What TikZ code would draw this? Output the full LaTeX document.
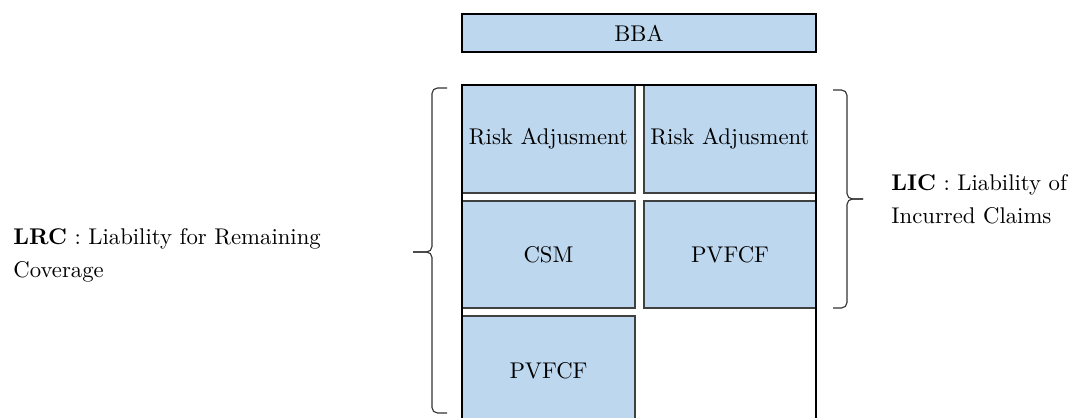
\documentclass[tikz,border=0pt]{standalone}
\definecolor{cellblue}{RGB}{189,215,238}
\begin{document}
\begin{tikzpicture}[x=0.44pt,y=-0.44pt,
  cell/.style={draw=black!75,line width=0.6pt,fill=cellblue},
  celltext/.style={font=\fontsize{10}{12}\selectfont,inner sep=0pt},
  sidetext/.style={font=\fontsize{10}{14.5}\selectfont,align=left,anchor=west,inner sep=0pt},
  bracestyle/.style={draw=black!80,line width=0.5pt,rounded corners=2.4pt}]
\useasboundingbox (0,0) rectangle (1069,418);

% top banner
\draw[cell,draw=black] (462,14) rectangle (816,52);
\node[celltext] (bba) at (639,33) {BBA};

% cells of the table
\draw[cell] (462,85) rectangle (635,193);
\draw[cell] (644,85) rectangle (816,193);
\draw[cell] (462,201) rectangle (635,308);
\draw[cell] (644,201) rectangle (816,308);
\draw[cell] (462,316) rectangle (635,430);
\node[celltext] (ra1) at (548.5,139) {Risk Adjusment};
\node[celltext] (ra2) at (730,139) {Risk Adjusment};
\node[celltext] (csm) at (548.5,255) {CSM};
\node[celltext] (pv2) at (730,255) {PVFCF};
\node[celltext] (pv1) at (548.5,371) {PVFCF};

% outer frame
\draw[black,line width=0.6pt] (462,430) -- (462,85) -- (816,85) -- (816,430);

% left brace (LRC)
\coordinate (lbtop) at (447,88);
\coordinate (lbbot) at (447,413);
\coordinate (lbtip) at (413,252);
\draw[bracestyle] (lbtop) -- (432,88) -- (432,252) -- (lbtip);
\draw[bracestyle] (lbtip) -- (432,252) -- (432,413) -- (lbbot);

% right brace (LIC)
\coordinate (rbtop) at (833,90);
\coordinate (rbbot) at (833,308);
\coordinate (rbtip) at (863,199);
\draw[bracestyle] (rbtop) -- (847,90) -- (847,199) -- (rbtip);
\draw[bracestyle] (rbtip) -- (847,199) -- (847,308) -- (rbbot);

% labels
\node[sidetext] (lrc) at (13,255) {\textbf{LRC} : Liability for Remaining\\Coverage};
\node[sidetext] (lic) at (891,199.5) {\textbf{LIC} : Liability of\\Incurred Claims};
\end{tikzpicture}
\end{document}
